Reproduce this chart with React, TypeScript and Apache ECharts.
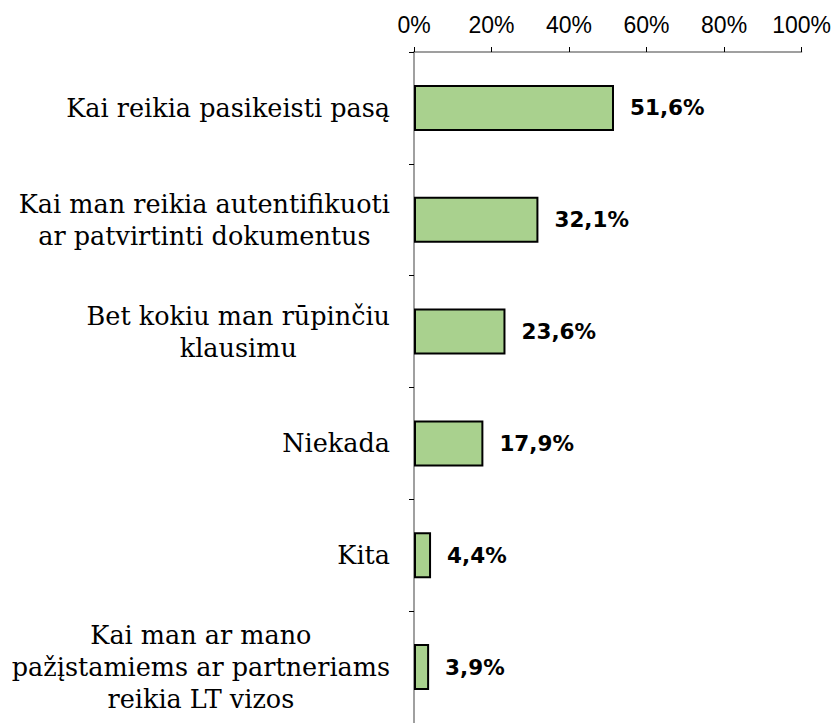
import React, { useEffect, useRef } from "react";
import * as echarts from "echarts";

// Survey answers, top to bottom
const categories: string[] = [
  "Kai reikia pasikeisti pasą",
  "Kai man reikia autentifikuoti\nar patvirtinti dokumentus",
  "Bet kokiu man rūpinčiu\nklausimu",
  "Niekada",
  "Kita",
  "Kai man ar mano\npažįstamiems ar partneriams\nreikia LT vizos",
];

// Share of respondents, percent
const shares: number[] = [51.6, 32.1, 23.6, 17.9, 4.4, 3.9];

const axisTicks: number[] = [0, 20, 40, 60, 80, 100];

export default function App() {
  const ref = useRef<HTMLDivElement | null>(null);

  useEffect(() => {
    document.body.style.margin = "0";
    if (!ref.current) return;
    const chart = echarts.init(ref.current, undefined, { renderer: "svg" });
    chart.setOption({
      animation: false,
      backgroundColor: "#ffffff",
      grid: { left: 414, right: 31, top: 52, height: 674, containLabel: false },
      xAxis: {
        type: "value",
        position: "top",
        min: axisTicks[0],
        max: axisTicks[axisTicks.length - 1],
        interval: 20,
        axisLine: { show: true, lineStyle: { color: "#808080", width: 1.5 } },
        axisTick: { show: true, length: 5, lineStyle: { color: "#000000", width: 1 } },
        splitLine: { show: false },
        axisLabel: {
          formatter: "{value}%",
          color: "#000000",
          fontFamily: "Liberation Sans",
          fontSize: 23,
          margin: 16,
        },
      },
      yAxis: {
        type: "category",
        inverse: true,
        data: categories,
        axisLine: { show: true, lineStyle: { color: "#808080", width: 1.5 } },
        axisTick: { show: true, length: 5, lineStyle: { color: "#000000", width: 1 } },
        axisLabel: {
          margin: 24,
          formatter: (v: string) =>
            v
              .split("\n")
              .map((line) => `{c|${line}}`)
              .join("\n"),
          rich: {
            c: {
              align: "center",
              color: "#000000",
              fontFamily: "DejaVu Serif",
              fontSize: 25.5,
              lineHeight: 32,
            },
          },
        },
      },
      series: [
        {
          type: "bar",
          data: shares,
          barWidth: 46,
          itemStyle: { color: "#a9d18e", borderColor: "#000000", borderWidth: 2 },
          label: {
            show: true,
            position: "right",
            distance: 16,
            color: "#000000",
            fontFamily: "DejaVu Sans",
            fontWeight: "bold",
            fontSize: 21.5,
            formatter: (p: any) => `${p.value.toFixed(1).replace(".", ",")}%`,
          },
        },
      ],
    });
    return () => chart.dispose();
  }, []);

  return <div ref={ref} style={{ width: 834, height: 723 }} />;
}
